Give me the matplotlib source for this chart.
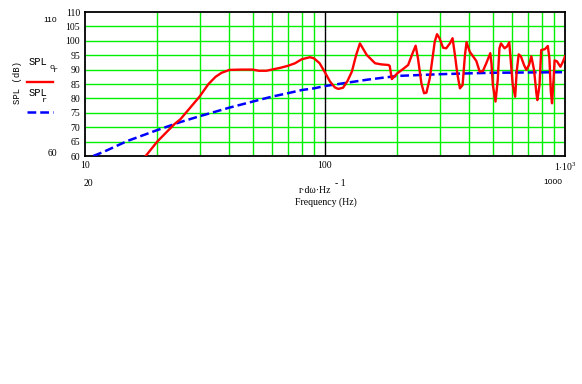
import matplotlib
matplotlib.use("Agg")
import matplotlib.pyplot as plt
from matplotlib.lines import Line2D

plt.rcParams['mathtext.fontset'] = 'custom'
plt.rcParams['mathtext.rm'] = 'Liberation Serif'
plt.rcParams['mathtext.it'] = 'Liberation Serif:italic'

# ---- data ----
red_f = [17.9, 20, 23.6, 25, 30, 32.7, 35, 37.1, 40, 45, 50, 53, 57, 60, 65, 70, 75, 80,
         86.6, 90, 95, 100, 105, 110, 113.6, 118.9, 124, 129.4, 134.9, 139.8, 149.2,
         161.7, 172, 183.8, 186, 189.9, 200, 210, 222, 233, 238.6, 244, 252.2, 258.6,
         264.6, 273.3, 286.6, 292.9, 300, 310.4, 320, 331.4, 340, 347.8, 355.7, 364.9,
         374.3, 383, 388.9, 401, 427.1, 441, 455, 469.9, 488.3, 494, 500.5, 513.4,
         524.5, 533, 541, 560, 573, 585.9, 595.8, 605.9, 620, 629, 641.3, 655, 675,
         690, 708, 724, 743, 760, 767, 783, 796, 825, 848, 861, 873, 883, 897, 905,
         925, 957, 980, 1000]
red_db = [60, 65, 71.1, 72.8, 80.6, 85, 87.5, 88.9, 89.9, 90, 90, 89.6, 89.6, 90, 90.6,
          91.3, 92.2, 93.6, 94.3, 93.9, 92.2, 89, 85.8, 83.8, 83.3, 83.7, 86, 89.3,
          95.1, 99.1, 95.1, 92.2, 91.8, 91.6, 91.3, 86.7, 88.7, 90, 91.6, 96.2, 98.3,
          93.9, 85.2, 81.8, 82, 87, 99.7, 102.3, 100.9, 97.6, 97.4, 99.1, 100.9, 95.1,
          88.7, 83.5, 84.6, 95.1, 99.5, 96.2, 93, 89.3, 89.5, 92.2, 95.7, 92, 84.6,
          78.9, 86.4, 97.4, 99.1, 97.4, 98, 99.5, 91.9, 84.6, 80.6, 89.3, 95.3, 94.6,
          91.6, 89.9, 91.6, 94.6, 89.9, 81.8, 79.4, 84.6, 96.8, 97.1, 98.2, 93.9,
          82.3, 78.3, 87.1, 93.2, 92.9, 91.0, 92.7, 94.6]

blue_f = [10.83, 12, 15, 20, 25, 30, 40, 50, 60, 70, 80, 90, 100, 150, 200, 300, 400,
          500, 700, 1000]
blue_db = [60, 61.5, 65.2, 69, 71.8, 73.8, 76.8, 78.9, 80.6, 81.8, 82.9, 83.5, 84.3,
           86.5, 87.8, 88.4, 88.7, 88.9, 89.0, 89.1]

y_ticks = [60, 65, 70, 75, 80, 85, 90, 95, 100, 105, 110]
x_ticks = [10, 100, 1000]
x_tick_labels = ['10', '100', r'1$\cdot$10$^{3}$']
x_minor = [20, 30, 40, 50, 60, 70, 80, 90, 200, 300, 400, 500, 600, 700, 800, 900]

W, H = 582, 384
fig = plt.figure(figsize=(W / 100, H / 100), dpi=100)
ax = fig.add_axes([85 / W, 1 - 156 / H, 480 / W, 144 / H])

GREEN = '#00f000'
ax.set_xscale('log')
ax.set_xlim(10, 1000)
ax.set_ylim(60, 110)

for yv in y_ticks[1:-1]:
    ax.axhline(yv, color=GREEN, lw=1.0, zorder=1)
for xv in x_minor:
    ax.axvline(xv, color=GREEN, lw=1.0, zorder=1)
ax.axvline(100, color='black', lw=1.0, zorder=1)

ax.plot(blue_f, blue_db, color='#0000ff', lw=1.8, dashes=(3.5, 1.6), zorder=3)
ax.plot(red_f, red_db, color='#ff0000', lw=1.7, zorder=4)

ax.set_yticks(y_ticks)
ax.set_yticklabels([str(v) for v in y_ticks], fontfamily='Liberation Serif', fontsize=7)
ax.set_xticks(x_ticks)
ax.set_xticklabels(x_tick_labels, fontfamily='Liberation Serif', fontsize=7)
ax.xaxis.set_minor_locator(matplotlib.ticker.NullLocator())
ax.tick_params(axis='both', length=0)
ax.tick_params(axis='y', pad=3.6)
ax.tick_params(axis='x', pad=3.4)
for s in ax.spines.values():
    s.set_color('black')
    s.set_linewidth(1.3)

def px(x, y):
    return x / W, 1 - y / H

# extra labels (Mathcad style)
fig.text(*px(50, 20), '110', fontfamily='Liberation Sans', fontsize=6, ha='center', va='center')
fig.text(*px(52, 153), '60', fontfamily='Liberation Serif', fontsize=7, ha='center', va='center')
fig.text(*px(88, 183), '20', fontfamily='Liberation Serif', fontsize=7, ha='center', va='center')
fig.text(*px(553, 183), '1000', fontfamily='Liberation Sans', fontsize=6, ha='center', va='center')

fig.text(*px(315, 190), 'r·dω·Hz', fontfamily='Liberation Serif', fontsize=7, ha='center', va='center')
fig.text(*px(340, 183), '- 1', fontfamily='Liberation Serif', fontsize=7, ha='center', va='center')
fig.text(*px(326, 202), 'Frequency (Hz)', fontfamily='Liberation Serif', fontsize=7, ha='center', va='center')

fig.text(*px(18, 82), 'SPL (dB)', fontfamily='Liberation Mono', fontsize=6.4, rotation=90,
         ha='center', va='center')

# legend
fig.text(*px(38, 62), 'SPL', fontfamily='Liberation Mono', fontsize=7.5, ha='center', va='center')
fig.text(*px(51.5, 67.5), 'o', fontfamily='Liberation Mono', fontsize=6, ha='center', va='center')
fig.text(*px(55.5, 71), 'r', fontfamily='Liberation Mono', fontsize=6, ha='center', va='center')
fig.add_artist(Line2D([27 / W, 52.5 / W], [1 - 82 / H, 1 - 82 / H], color='#ff0000', lw=1.7))
fig.text(*px(38, 93), 'SPL', fontfamily='Liberation Mono', fontsize=7.5, ha='center', va='center')
fig.text(*px(44.5, 100.5), 'r', fontfamily='Liberation Mono', fontsize=6, ha='center', va='center')
fig.add_artist(Line2D([27 / W, 53 / W], [1 - 112 / H, 1 - 112 / H], color='#0000ff', lw=1.8,
                      dashes=(3.5, 1.6)))

fig.savefig('out.png', dpi=100)
